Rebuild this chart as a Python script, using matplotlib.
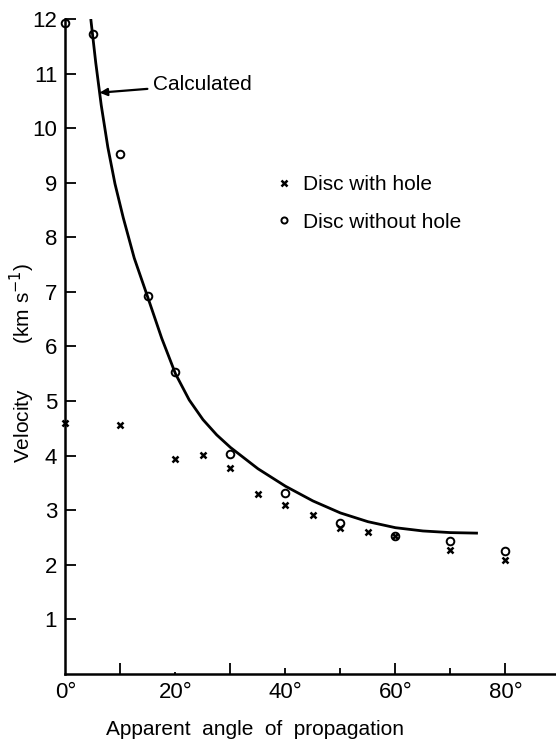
import numpy as np
import matplotlib
matplotlib.use("Agg")
import matplotlib.pyplot as plt

plt.rcParams['font.family'] = ['Liberation Sans', 'DejaVu Sans']

# measured velocities, disc with a hole
hole_angle = [0, 10, 20, 25, 30, 35, 40, 45, 50, 55, 60, 70, 80]
hole_vel = [4.60, 4.56, 3.94, 4.02, 3.77, 3.29, 3.09, 2.91, 2.68, 2.61, 2.53, 2.28, 2.09]

# measured velocities, disc without a hole
solid_angle = [0, 5, 10, 15, 20, 30, 40, 50, 60, 70, 80]
solid_vel = [11.93, 11.72, 9.52, 6.92, 5.54, 4.03, 3.31, 2.77, 2.53, 2.44, 2.26]

# calculated curve
calc_angle = [4.6, 5.5, 6.5, 7.7, 9.0, 10.5, 12.5, 14.9, 17.5, 20, 22.5, 25, 27.5,
              30, 35, 40, 45, 50, 55, 60, 65, 70, 75]
calc_vel = [12.0, 11.2, 10.42, 9.65, 8.98, 8.36, 7.62, 6.92, 6.15, 5.50, 5.02, 4.66, 4.38,
            4.15, 3.76, 3.44, 3.17, 2.95, 2.79, 2.68, 2.62, 2.59, 2.58]

x_labels = ['0°', '20°', '40°', '60°', '80°']
x_label_pos = [0, 20, 40, 60, 80]
x_minor_pos = [10, 30, 50, 70]

fig = plt.figure(figsize=(5.56, 7.39), dpi=100)
ax = fig.add_axes([0.1178, 0.088, 0.8822, 0.8863])

ax.plot(calc_angle, calc_vel, color='black', lw=2.0, solid_capstyle='butt')
ax.plot(hole_angle, hole_vel, ls='none', marker='x', ms=5, mew=1.8, color='black',
        label='Disc with hole', clip_on=False)
ax.plot(solid_angle, solid_vel, ls='none', marker='o', ms=5.5, mew=1.4, mfc='none',
        color='black', label='Disc without hole', clip_on=False)

ax.annotate('Calculated', xy=(6.2, 10.65), xytext=(15.9, 10.8), fontsize=15,
            va='center', ha='left',
            arrowprops=dict(arrowstyle='-|>', color='black', lw=1.6,
                            mutation_scale=11, shrinkA=2, shrinkB=0))

ax.set_xlim(0, 89.2)
ax.set_ylim(0, 12)

for s in ['top', 'right']:
    ax.spines[s].set_visible(False)
for s in ['left', 'bottom']:
    ax.spines[s].set_linewidth(1.8)

ax.set_yticks(range(1, 13))
ax.tick_params(axis='y', direction='in', length=8, width=1.3, labelsize=16, pad=6)

ax.set_xticks(x_label_pos)
ax.set_xticklabels(x_labels)
ax.set_xticks(x_minor_pos, minor=True)
ax.tick_params(axis='x', which='both', direction='in', width=1.3, labelsize=16, pad=6)
# tick marks along the angle axis have uneven lengths
for t, ln in zip(ax.xaxis.get_major_ticks(), [0, 1.5, 4, 8, 8]):
    t.tick1line.set_markersize(ln)
for t, ln in zip(ax.xaxis.get_minor_ticks(), [8, 8, 4, 4]):
    t.tick1line.set_markersize(ln)

ax.set_xlabel('Apparent  angle  of  propagation', fontsize=15, x=0.387, labelpad=12)
ax.set_ylabel('Velocity        (km s$^{-1}$)', fontsize=15)
ax.yaxis.set_label_coords(-0.058, 0.475)

ax.legend(loc='upper left', bbox_to_anchor=(0.412, 0.778), frameon=False, fontsize=15,
          handlelength=0.6, handletextpad=0.6, labelspacing=0.9, markerscale=0.8,
          borderpad=0)

fig.savefig('out.png', dpi=100)
